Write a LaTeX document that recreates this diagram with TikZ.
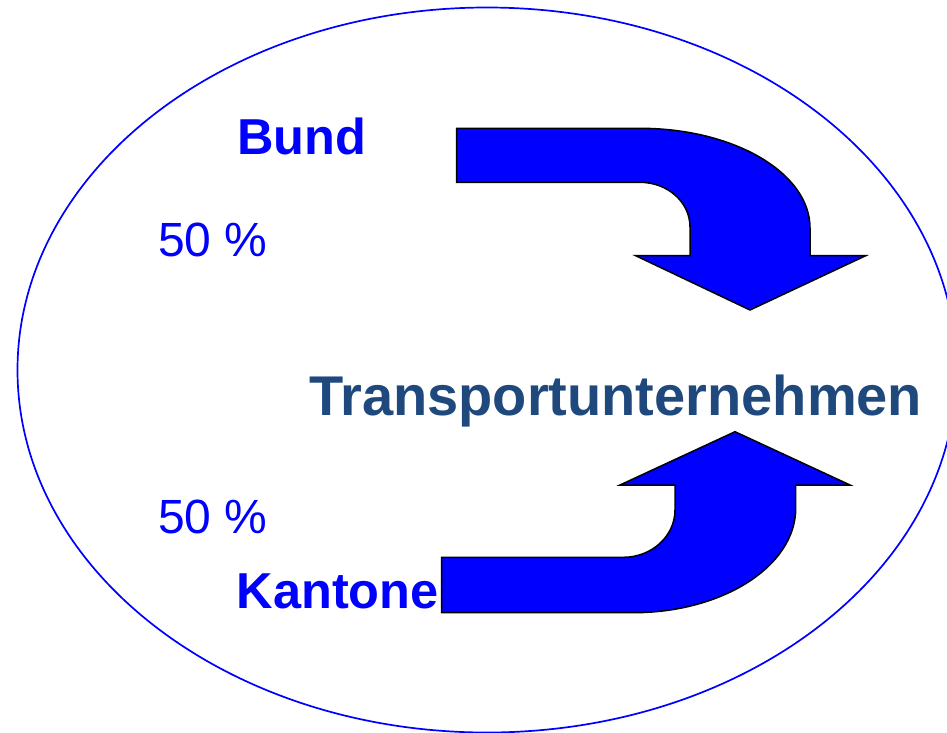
\documentclass[tikz,border=0pt]{standalone}
\usepackage{fontspec}
\setmainfont{Liberation Sans}
\definecolor{darkblue}{RGB}{31,73,125}
\begin{document}
\begin{tikzpicture}[x=1pt,y=-1pt,
  lbl/.style={anchor=base west,inner sep=0pt,text=blue,font=\bfseries\fontsize{50.5}{56}\selectfont},
  pct/.style={anchor=base west,inner sep=0pt,text=blue,font=\fontsize{48}{54}\selectfont},
  arrowshape/.style={fill=blue,draw=black,line width=1.5pt,line join=miter}]
\useasboundingbox (0,0) rectangle (947,732);
\fill[white] (0,0) rectangle (947,732);
\draw[blue,line width=1.7pt] (487,370) ellipse [x radius=469.5, y radius=362.5];
% top arrow
\draw[arrowshape] (456.7,128.3) -- (640,128.3)
  .. controls (733.9,128.3) and (810,172.8) .. (810,228)
  -- (810,255.7) -- (865.7,255.7) -- (750,310) -- (635.7,255.7) -- (690,255.7) -- (690,227)
  .. controls (690,202.1) and (667.6,182.3) .. (640,182.3)
  -- (456.7,182.3) -- cycle;
% bottom arrow
\draw[arrowshape] (441.7,557.3) -- (623.3,557.3)
  .. controls (651.8,557.3) and (675,536.1) .. (675,510)
  -- (675,485) -- (620,485) -- (735,431.7) -- (850,485) -- (795.7,485) -- (795.7,508.3)
  .. controls (795.7,566) and (722.9,612.7) .. (633,612.7)
  -- (441.7,612.7) -- cycle;
\node[lbl] (bund) at (237,154.3) {Bund};
\node[pct] (p1) at (158,256.7) {50 \%};
\node[pct] (p2) at (158,533.3) {50 \%};
\node[lbl] (kantone) at (236.5,608.3) {Kantone};
\node[anchor=base west,inner sep=0pt,text=darkblue,font=\bfseries\fontsize{56}{62}\selectfont] (tu) at (309,415) {Transportunternehmen};
\end{tikzpicture}
\end{document}
